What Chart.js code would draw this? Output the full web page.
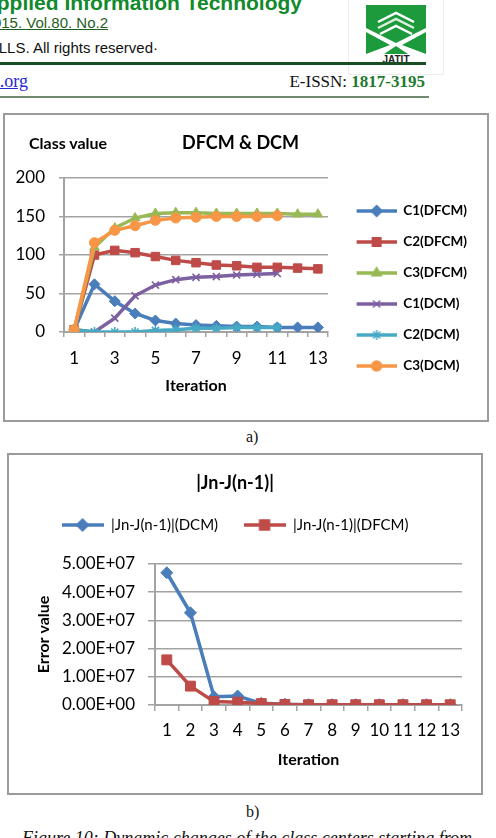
<!DOCTYPE html>
<html>
<head>
<meta charset="utf-8">
<script src="https://cdn.jsdelivr.net/npm/chart.js@4.4.1/dist/chart.umd.min.js"></script>
<style>
  body { margin: 0; width: 496px; height: 838px; overflow: hidden; background: #fff; position: relative; font-family: "Liberation Sans", Arial, sans-serif; }
  .abs { position: absolute; white-space: nowrap; }
  .journal { right: 194px; top: -8px; font-size: 21px; line-height: 21px; font-weight: bold; color: #128a2c; }
  .volume { right: 388px; top: 15px; font-size: 15px; line-height: 15px; color: #1f5e22; text-decoration: underline; }
  .rights { right: 338px; top: 40px; font-size: 15px; line-height: 15px; color: #111; }
  .rule-thick { left: 0; top: 62px; width: 426px; height: 3px; background: #174f22; }
  .rule-thin { left: 0; top: 96px; width: 429px; height: 1.5px; background: #6f8a6f; }
  .site { right: 468px; top: 72px; font-family: "Liberation Serif", "Times New Roman", serif; font-size: 18px; line-height: 18px; color: #2727d6; text-decoration: underline; }
  .issn { right: 71px; top: 73px; font-family: "Liberation Serif", "Times New Roman", serif; font-size: 17px; line-height: 17px; color: #111; }
  .issn b { color: #1e7a2e; }
  .logo-box { left: 348px; top: -2px; width: 94px; height: 75px; border: 1px solid #ececec; }
  .box { position: absolute; box-sizing: border-box; border: 2px solid #9b9b9b; }
  .cap { position: absolute; font-family: "Liberation Serif", "Times New Roman", serif; font-size: 16px; line-height: 16px; color: #111; }
  .fig { left: 22px; top: 829px; font-style: italic; font-size: 18px; line-height: 18px; }
  .ylabel { left: 29px; top: 135px; font-family: Lato, "Open Sans", sans-serif; font-weight: bold; font-size: 16px; line-height: 16px; color: #000; }
  canvas { position: absolute; }
</style>
</head>
<body>

<div class="abs journal">Applied Information Technology</div>
<div class="abs volume">2015. Vol.80. No.2</div>
<div class="abs rights">© 2005 - 2015 JATIT &amp; LLS. All rights reserved·</div>
<div class="abs logo-box"></div>
<svg class="abs" style="left:364px; top:2px" width="64" height="62" viewBox="0 0 64 62">
  <polygon points="2,3 62,3 62,26 32,41 2,26" fill="#1c9a3c"/>
  <polyline points="14,20 32,11 50,20" fill="none" stroke="#fff" stroke-width="2.5"/>
  <polyline points="14,26 32,17 50,26" fill="none" stroke="#d9eedd" stroke-width="2.5"/>
  <polyline points="16,32 32,24 48,32" fill="none" stroke="#fff" stroke-width="2.5"/>
  <polygon points="2,30 26,43 2,52" fill="#1c9a3c"/>
  <polygon points="62,30 38,43 62,52" fill="#1c9a3c"/>
  <polygon points="20,52 32,44 44,52" fill="#1c9a3c"/>
  <text x="32" y="61" text-anchor="middle" font-family="Liberation Sans, Arial, sans-serif" font-weight="bold" font-size="10" fill="#222">JATIT</text>
</svg>
<div class="abs rule-thick"></div>
<div class="abs site">www.jatit.org</div>
<div class="abs issn">E-ISSN: <b>1817-3195</b></div>
<div class="abs rule-thin"></div>

<div class="box" style="left:3px; top:113px; width:486px; height:309px;"></div>
<canvas id="chartA" width="484" height="307" style="left:4px; top:114px;"></canvas>
<div class="abs ylabel">Class value</div>
<div class="cap" style="left:246px; top:429px;">a)</div>

<div class="box" style="left:7px; top:453px; width:476px; height:342px;"></div>
<canvas id="chartB" width="474" height="340" style="left:8px; top:454px;"></canvas>
<div class="cap" style="left:246px; top:804px;">b)</div>

<div class="cap fig">Figure 10: Dynamic changes of the class centers starting from</div>

<script>
const iterations = ['1', '2', '3', '4', '5', '6', '7', '8', '9', '10', '11', '12', '13']

// a) class centre values per iteration
const c1Dfcm = [3, 62, 40, 24, 15, 11, 9, 8, 7, 7, 6, 6, 6]
const c2Dfcm = [3, 100, 106, 103, 98, 93, 90, 87, 86, 84, 84, 83, 82]
const c3Dfcm = [3, 110, 135, 148, 154, 155, 155, 154, 154, 154, 154, 153, 153]
const c1Dcm = [3, 0, 18, 47, 61, 68, 71, 72, 74, 75, 76]
const c2Dcm = [3, 0, 0, 0, 2, 3, 5, 5, 6, 6, 6]
const c3Dcm = [3, 116, 132, 138, 145, 148, 149, 150, 150, 150, 151]
const classTicks = [0, 50, 100, 150, 200]

// b) |Jn - J(n-1)| per iteration
const errDcm = [4.69e7, 3.27e7, 0.29e7, 0.32e7, 0.06e7, 0.03e7, 0.01e7, 0.01e7, 0.01e7, 0.01e7, 0.01e7, 0.01e7, 0.01e7]
const errDfcm = [1.6e7, 0.67e7, 0.12e7, 0.1e7, 0.05e7, 0.02e7, 0.01e7, 0.01e7, 0.01e7, 0.01e7, 0.01e7, 0.01e7, 0.01e7]
const errTicks = [0, 1e7, 2e7, 3e7, 4e7, 5e7]

const FONT = 'Lato, "Open Sans", sans-serif'
const GRID = '#a3a3a3'

const colors = {
    blue: '#4a7ebb',
    red: '#be4b48',
    green: '#98b954',
    purple: '#7d60a0',
    cyan: '#46aac5',
    orange: '#f79646'
}

// legend swatch: a short line with the series marker in the middle
const makeSwatch = (color, style, radius, width, margin) => {
    const canvas = document.createElement('canvas')
    canvas.width = width
    canvas.height = 16
    const ctx = canvas.getContext('2d')
    ctx.strokeStyle = color
    ctx.fillStyle = color
    ctx.lineWidth = 3.5
    ctx.beginPath()
    ctx.moveTo(margin, 8)
    ctx.lineTo(width, 8)
    ctx.stroke()
    ctx.lineWidth = 1.5
    const cx = margin + (width - margin) / 2
    if (Chart.helpers && Chart.helpers.drawPoint) {
        Chart.helpers.drawPoint(ctx, { pointStyle: style, radius, rotation: 0, borderWidth: 1.5 }, cx, 8)
    } else {
        ctx.beginPath()
        ctx.arc(cx, 8, radius, 0, Math.PI * 2)
        ctx.fill()
    }
    return canvas
}

const legendLabels = (swatches) => (chart) => {
    const items = Chart.defaults.plugins.legend.labels.generateLabels(chart)
    items.forEach(item => { item.pointStyle = swatches[item.datasetIndex] })
    return items
}

const series = (label, data, color, pointStyle, pointRadius, order) => ({
    label,
    data,
    borderColor: color,
    backgroundColor: color,
    pointBackgroundColor: color,
    pointBorderColor: color,
    pointStyle,
    pointRadius,
    pointBorderWidth: pointStyle === 'crossRot' || pointStyle === 'star' ? 1.6 : 1,
    borderWidth: 3.5,
    tension: 0,
    order
})

const sci = (v) => {
    if (v === 0) return '0.00E+00'
    const e = Math.floor(Math.log10(v))
    const m = v / Math.pow(10, e)
    return m.toFixed(2) + 'E+' + String(e).padStart(2, '0')
}

const seriesA = [
    series('C1(DFCM)', c1Dfcm, colors.blue, 'rectRot', 5.5, 5),
    series('C2(DFCM)', c2Dfcm, colors.red, 'rect', 6, 4),
    series('C3(DFCM)', c3Dfcm, colors.green, 'triangle', 5.5, 3),
    series('C1(DCM)', c1Dcm, colors.purple, 'crossRot', 5, 2),
    series('C2(DCM)', c2Dcm, colors.cyan, 'star', 5, 1),
    series('C3(DCM)', c3Dcm, colors.orange, 'circle', 5, 0)
]
const swatchesA = seriesA.map(s => makeSwatch(s.borderColor, s.pointStyle, s.pointRadius, 51, 11))

new Chart(document.getElementById('chartA'), {
    type: 'line',
    data: { labels: iterations, datasets: seriesA },
    options: {
        responsive: false,
        animation: false,
        layout: { padding: { top: 0, left: 0, right: 11, bottom: 0 } },
        plugins: {
            tooltip: { enabled: false },
            title: {
                display: true,
                text: 'DFCM & DCM',
                color: '#000',
                font: { family: FONT, size: 18, weight: 'bold' },
                padding: { top: 18.2, bottom: 24.2 }
            },
            legend: {
                position: 'right',
                align: 'start',
                // lift the default cap of a quarter of the width so labels are not clipped
                maxWidth: 220,
                title: { display: true, text: '', font: { size: 10 }, padding: { top: 60.75, bottom: 0 } },
                labels: {
                    usePointStyle: true,
                    pointStyleWidth: 51,
                    padding: 17.5,
                    color: '#000',
                    font: { family: FONT, size: 13.5, weight: 'bold' },
                    sort: (a, b) => a.datasetIndex - b.datasetIndex,
                    generateLabels: legendLabels(swatchesA)
                }
            }
        },
        scales: {
            x: {
                offset: true,
                grid: { display: true, drawOnChartArea: false, drawTicks: true, tickLength: 5, offset: true, color: GRID, lineWidth: 1.5 },
                border: { color: GRID, width: 2 },
                ticks: {
                    autoSkip: false,
                    maxRotation: 0,
                    padding: 11,
                    color: '#000',
                    font: { family: FONT, size: 17 },
                    callback(value, index) { return index % 2 === 0 ? this.getLabelForValue(value) : '' }
                },
                title: { display: true, text: 'Iteration', color: '#000', font: { family: FONT, size: 16, weight: 'bold' }, padding: { top: 0, bottom: 25.4 } },
                afterFit(scale) { scale.height = 89 }
            },
            y: {
                min: classTicks[0],
                max: classTicks[classTicks.length - 1],
                afterBuildTicks(scale) { scale.ticks = classTicks.map(value => ({ value })) },
                grid: { color: GRID, lineWidth: 1.5, tickLength: 5 },
                border: { color: GRID, width: 2 },
                ticks: { padding: 14, color: '#000', font: { family: FONT, size: 17 } },
                afterFit(scale) { scale.width = 60 }
            }
        }
    }
})

const seriesB = [
    series('|Jn-J(n-1)|(DCM)', errDcm, colors.blue, 'rectRot', 6, 1),
    series('|Jn-J(n-1)|(DFCM)', errDfcm, colors.red, 'rect', 7, 0)
]
const swatchesB = seriesB.map(s => makeSwatch(s.borderColor, s.pointStyle, s.pointRadius, 42, 0))

new Chart(document.getElementById('chartB'), {
    type: 'line',
    data: { labels: iterations, datasets: seriesB },
    options: {
        responsive: false,
        animation: false,
        layout: { padding: { top: 0, left: 0, right: 20, bottom: 0 } },
        plugins: {
            tooltip: { enabled: false },
            title: {
                display: true,
                text: '|Jn-J(n-1)|',
                color: '#000',
                font: { family: FONT, size: 18, weight: 'bold', lineHeight: 1 },
                padding: { top: 20, bottom: 0 }
            },
            // empty spacer between the legend and the plot
            subtitle: {
                display: true,
                text: ' ',
                weight: 500,
                font: { size: 1, lineHeight: 1 },
                padding: { top: 20.5, bottom: 0 }
            },
            legend: {
                position: 'top',
                labels: {
                    usePointStyle: true,
                    pointStyleWidth: 42,
                    padding: 25.5,
                    color: '#000',
                    font: { family: FONT, size: 15 },
                    sort: (a, b) => a.datasetIndex - b.datasetIndex,
                    generateLabels: legendLabels(swatchesB)
                }
            }
        },
        scales: {
            x: {
                offset: true,
                grid: { display: true, drawOnChartArea: false, drawTicks: true, tickLength: 6, offset: true, color: GRID, lineWidth: 1.5 },
                border: { color: GRID, width: 2 },
                ticks: { autoSkip: false, maxRotation: 0, padding: 9.8, color: '#000', font: { family: FONT, size: 17 } },
                title: { display: true, text: 'Iteration', color: '#000', font: { family: FONT, size: 16, weight: 'bold' }, padding: { top: 0, bottom: 24.4 } },
                afterFit(scale) { scale.height = 89 }
            },
            y: {
                min: errTicks[0],
                max: errTicks[errTicks.length - 1],
                afterBuildTicks(scale) { scale.ticks = errTicks.map(value => ({ value })) },
                grid: { color: GRID, lineWidth: 1.5, tickLength: 7 },
                border: { color: GRID, width: 2 },
                ticks: { padding: 13, color: '#000', font: { family: FONT, size: 17 }, callback: (value) => sci(value) },
                title: { display: true, text: 'Error value', color: '#000', font: { family: FONT, size: 16, weight: 'bold' }, padding: { top: 26.4, bottom: 0 } },
                afterFit(scale) { scale.width = 147 }
            }
        }
    }
})
</script>
</body>
</html>
